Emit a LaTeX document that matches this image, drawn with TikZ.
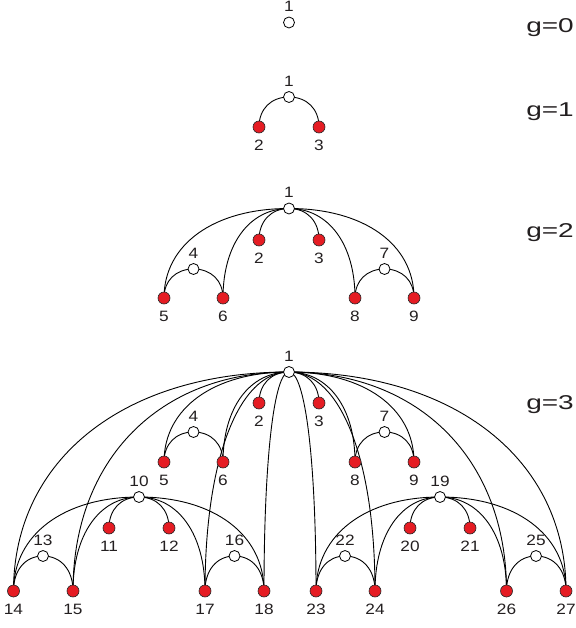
\documentclass[tikz,border=0pt]{standalone}
\usepackage{fontspec}
\setmainfont{Liberation Sans}
\newfontfamily\labfont[FakeStretch=1.15]{Liberation Sans}
\newfontfamily\genfont[FakeStretch=1.4]{Liberation Sans}
\usetikzlibrary{calc,backgrounds}
\definecolor{nodered}{RGB}{229,28,35}
\definecolor{txt}{RGB}{35,31,32}
\tikzset{
  hubnode/.style={circle, draw=black, fill=white, minimum size=11pt, inner sep=0pt, line width=0.8pt},
  leafnode/.style={circle, draw=black!85, fill=nodered, minimum size=12pt, inner sep=0pt, line width=0.6pt},
  lab/.style={font=\labfont\fontsize{15}{15}\selectfont, inner sep=0pt, text=txt, anchor=center},
  edge/.style={line width=0.9pt, black},
  gen/.style={font=\genfont\fontsize{20}{20}\selectfont, anchor=base east, inner sep=0pt, text=txt}
}
\newcommand\hb[3]{\node[hubnode] (#1) at (#2) {};\node[lab] (l#1) at ([yshift=16pt]#1.center) {#3};}
\newcommand\lf[3]{\node[leafnode] (#1) at (#2) {};\node[lab] (l#1) at ([yshift=-18.5pt]#1.center) {#3};}
\newcommand\qa[2]{\draw[edge] let \p1=(#1.center), \p2=(#2.center) in (\p1) .. controls (\x1*0.4+\x2*0.6,\y1) and (\x2,\y2*0.4+\y1*0.6) .. (\p2);}
\begin{document}
\begin{tikzpicture}[x=1pt,y=1pt]
\useasboundingbox (0,0) rectangle (575,-628);
% g = 0
\hb{a1}{289,-22.5}{1}
% g = 1
\hb{b1}{289,-97}{1}
\lf{b2}{259,-127}{2}
\lf{b3}{319,-127}{3}
% g = 2
\hb{c1}{289,-208.5}{1}
\lf{c2}{259,-240}{2}
\lf{c3}{319,-240}{3}
\hb{c4}{193.5,-269}{4}
\lf{c5}{164,-298}{5}
\lf{c6}{223,-298}{6}
\hb{c7}{384.5,-269}{7}
\lf{c8}{355,-298}{8}
\lf{c9}{414,-298}{9}
% g = 3
\hb{d1}{289,-372}{1}
\lf{d2}{259,-403}{2}
\lf{d3}{319,-403}{3}
\hb{d4}{193.5,-432}{4}
\lf{d5}{164,-462}{5}
\lf{d6}{223,-462}{6}
\hb{d7}{384.5,-432}{7}
\lf{d8}{355,-462}{8}
\lf{d9}{414,-462}{9}
\hb{d10}{139,-497}{10}
\lf{d11}{109,-528}{11}
\lf{d12}{169,-528}{12}
\hb{d13}{43,-556}{13}
\lf{d14}{13.5,-591}{14}
\lf{d15}{73,-591}{15}
\hb{d16}{234.5,-556}{16}
\lf{d17}{205,-591}{17}
\lf{d18}{264,-591}{18}
\hb{d19}{440,-497}{19}
\lf{d20}{410,-528}{20}
\lf{d21}{470,-528}{21}
\hb{d22}{345,-556}{22}
\lf{d23}{316,-591}{23}
\lf{d24}{375,-591}{24}
\hb{d25}{536,-556}{25}
\lf{d26}{506.5,-591}{26}
\lf{d27}{566,-591}{27}
% generation labels
\node[gen] (g0) at (574,-33) {g=0};
\node[gen] (g1) at (574,-117) {g=1};
\node[gen] (g2) at (574,-237) {g=2};
\node[gen] (g3) at (574,-409.5) {g=3};
\begin{scope}[on background layer]
\qa{b1}{b2}\qa{b1}{b3}
\foreach \c in {c2,c3,c5,c6,c8,c9} {\qa{c1}{\c}}
\qa{c4}{c5}\qa{c4}{c6}\qa{c7}{c8}\qa{c7}{c9}
\foreach \c in {d2,d3,d5,d6,d8,d9,d14,d15,d17,d18,d23,d24,d26,d27} {\qa{d1}{\c}}
\qa{d4}{d5}\qa{d4}{d6}\qa{d7}{d8}\qa{d7}{d9}
\foreach \c in {d11,d12,d14,d15,d17,d18} {\qa{d10}{\c}}
\foreach \c in {d20,d21,d23,d24,d26,d27} {\qa{d19}{\c}}
\qa{d13}{d14}\qa{d13}{d15}\qa{d16}{d17}\qa{d16}{d18}
\qa{d22}{d23}\qa{d22}{d24}\qa{d25}{d26}\qa{d25}{d27}
\end{scope}
\end{tikzpicture}
\end{document}
